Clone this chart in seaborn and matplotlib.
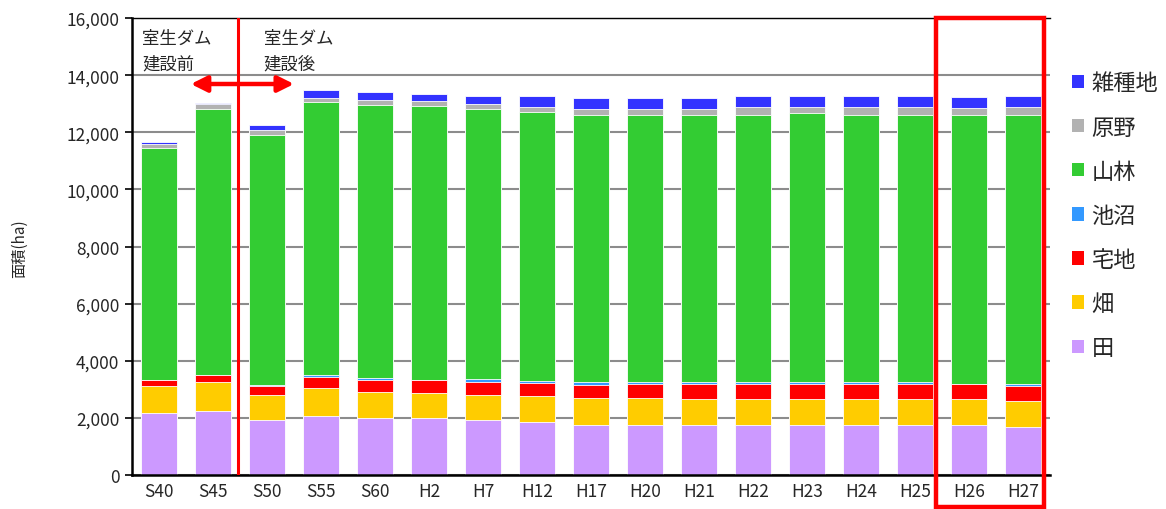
import numpy as np
import pandas as pd
import seaborn as sns
import matplotlib.pyplot as plt
from matplotlib.patches import Patch, Rectangle

# 年次
years = ["S40", "S45", "S50", "S55", "S60", "H2", "H7", "H12", "H17", "H20",
         "H21", "H22", "H23", "H24", "H25", "H26", "H27"]

# 土地利用面積 (ha) - 下から順に
ta = [2170, 2230, 1915, 2066, 2007, 1984, 1915, 1856, 1762, 1762,
      1762, 1762, 1762, 1762, 1762, 1762, 1692]
hatake = [946, 1015, 885, 969, 899, 887, 885, 899, 946, 946,
          888, 888, 888, 888, 888, 888, 899]
takuchi = [210, 245, 327, 407, 420, 455, 468, 478, 455, 467,
           525, 525, 525, 525, 525, 525, 536]
chisho = [15, 10, 10, 58, 70, 10, 82, 70, 82, 81,
          81, 81, 81, 81, 81, 5, 59]
sanrin = [8110, 9326, 8779, 9571, 9570, 9595, 9476, 9417, 9370, 9359,
          9359, 9359, 9404, 9359, 9359, 9425, 9429]
genya = [140, 154, 175, 129, 175, 164, 164, 165, 200, 211,
         211, 259, 214, 259, 259, 259, 259]
zasshu = [80, 45, 164, 270, 259, 245, 270, 375, 385, 364,
          364, 386, 386, 386, 386, 386, 386]

labels = ["田", "畑", "宅地", "池沼", "山林", "原野", "雑種地"]
series = [ta, hatake, takuchi, chisho, sanrin, genya, zasshu]
colors = ["#CC99FF", "#FFCC00", "#FF0000", "#3399FF", "#33CC33", "#B2B2B2", "#3333FF"]

df = pd.DataFrame(dict(zip(labels, series)), index=years)
cum = df.cumsum(axis=1)

sns.set_style("white")
plt.rcParams['font.family'] = ['Noto Sans CJK JP', 'DejaVu Sans']

fig = plt.figure(figsize=(11.66, 5.10), dpi=100)
ax = fig.add_axes([0.1132, 0.0667, 0.7873, 0.896])

# 上の層から順に累積値を重ねて描く
for lab, col in reversed(list(zip(labels, colors))):
    sns.barplot(x=years, y=cum[lab].values, color=col, saturation=1,
                width=0.67, errorbar=None, edgecolor="white", linewidth=0.6, ax=ax)

ax.set_ylim(0, 16000)
ax.set_xlim(-0.5, len(years) - 0.5)
ax.set_yticks(np.arange(0, 16001, 2000))
ax.set_yticklabels([f"{v:,}" for v in range(0, 16001, 2000)], fontsize=12.5)
ax.set_xticks(range(len(years)))
ax.set_xticklabels(years, fontsize=12.5)
ax.set_xticks(np.arange(-0.5, len(years), 1), minor=True)
ax.tick_params(axis="x", which="major", length=0, pad=5)
ax.tick_params(axis="x", which="minor", length=5, width=1.2, direction="out", color="black")
ax.tick_params(axis="y", length=5, width=1.2, direction="out", color="black", left=True, pad=4)
ax.set_axisbelow(True)
ax.yaxis.grid(True, color="#8c8c8c", linewidth=1.5)
for s in ["left", "bottom"]:
    ax.spines[s].set_color("black")
    ax.spines[s].set_linewidth(1.8)
ax.spines["top"].set_color("black")
ax.spines["top"].set_linewidth(1.0)
ax.spines["right"].set_visible(False)
ax.set_xlabel("")
ax.set_ylabel("")

fig.text(0.017, 0.513, "面積(ha)", rotation=90, ha="center", va="center", fontsize=11)

# ダム建設前後
ax.axvline(1.46, color="red", linewidth=2.2, zorder=5)
ax.annotate("", xy=(0.59, 13690), xytext=(2.5, 13690),
            arrowprops=dict(arrowstyle="<|-|>", color="red", lw=3.2, mutation_scale=24,
                            shrinkA=0, shrinkB=0), zorder=6)
ax.text(-0.31, 15620, "室生ダム\n建設前", fontsize=12.5, va="top", ha="left", linespacing=1.55)
ax.text(1.94, 15620, "室生ダム\n建設後", fontsize=12.5, va="top", ha="left", linespacing=1.55)

# H26・H27 の枠
ax.add_patch(Rectangle((14.39, -0.07), 2.0, 1.07, transform=ax.get_xaxis_transform(),
                       fill=False, edgecolor="red", linewidth=3.2, clip_on=False, zorder=7))

handles = [Patch(facecolor=c, edgecolor="none") for c in colors][::-1]
fig.legend(handles, labels[::-1], loc="upper left", bbox_to_anchor=(0.919, 0.858),
           frameon=False, fontsize=16, handlelength=0.55, handleheight=0.55,
           handletextpad=0.35, labelspacing=0.95, borderpad=0, borderaxespad=0)

fig.savefig("out.png", dpi=100)
